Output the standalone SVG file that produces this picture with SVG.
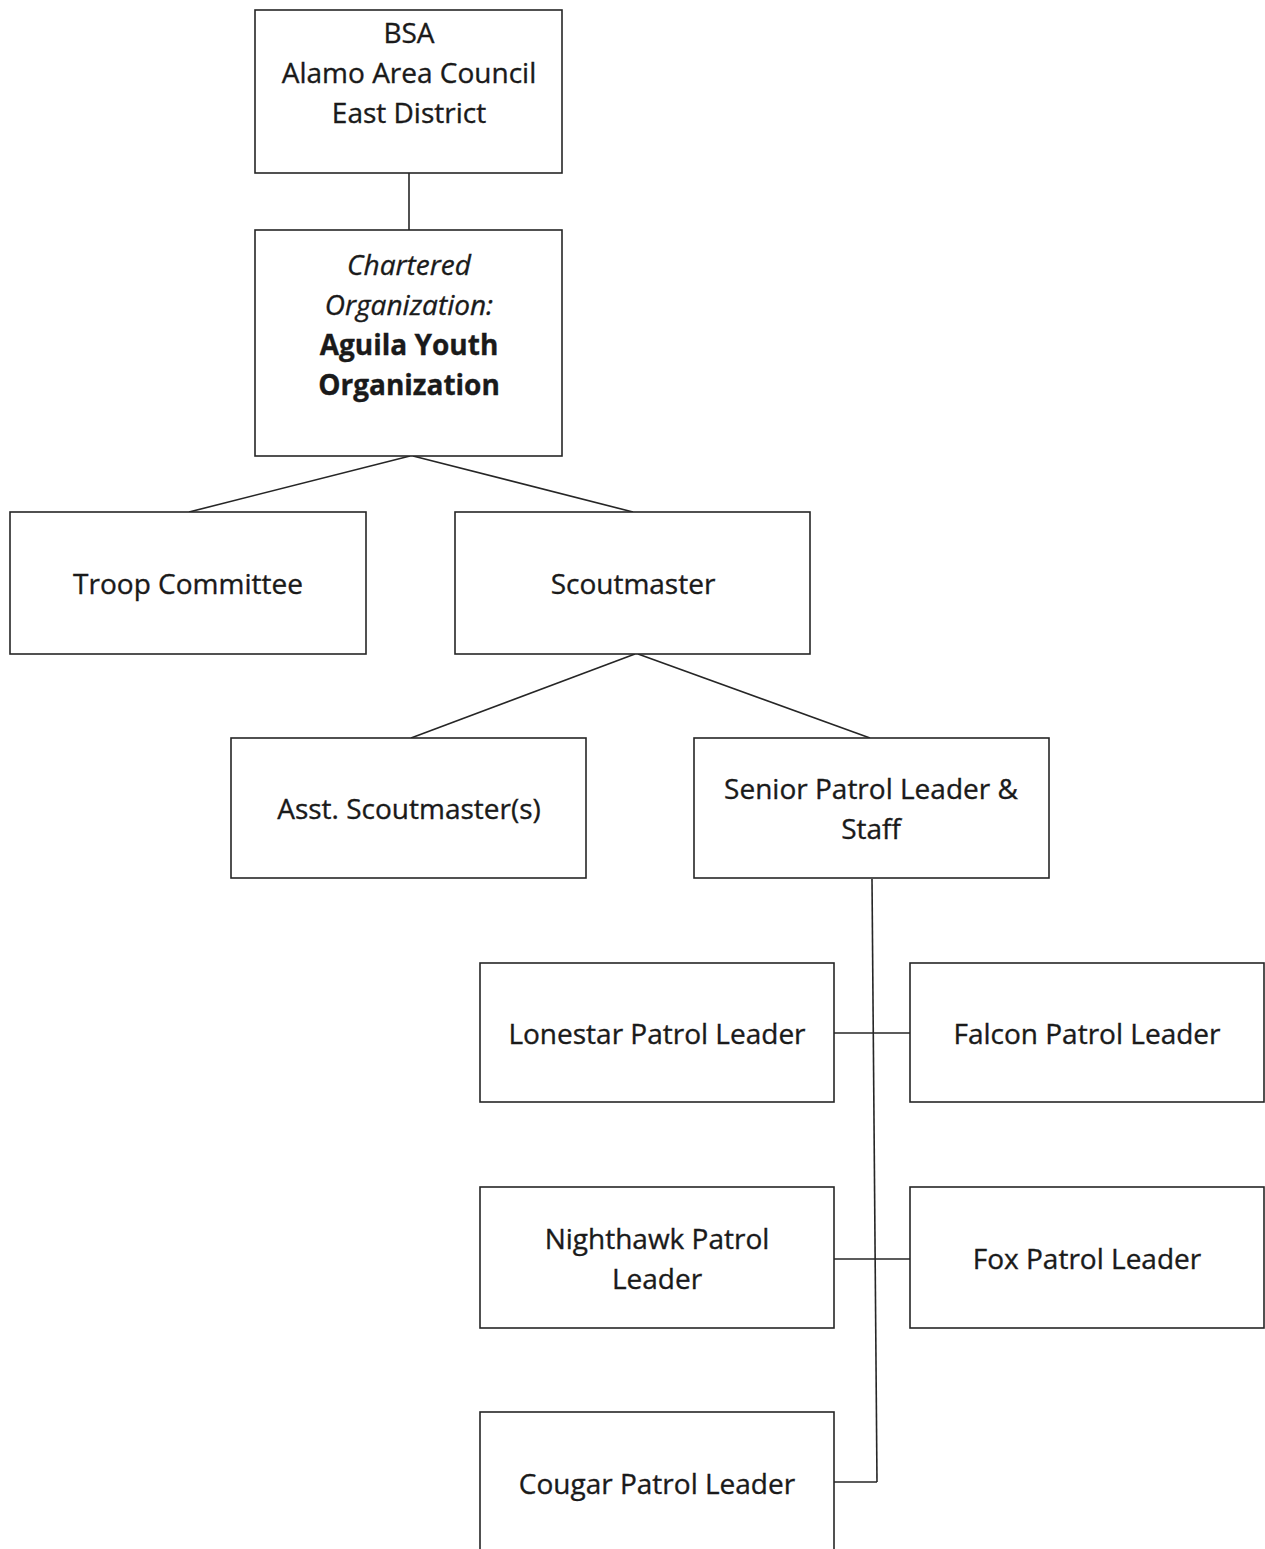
<svg xmlns="http://www.w3.org/2000/svg" width="1265" height="1549" viewBox="0 0 1265 1549">
<style>
.box{fill:#fff;stroke:#262626;stroke-width:1.6}
.t{font-family:"Open Sans","Liberation Sans",sans-serif;font-size:28px;fill:#1a1a1a;stroke:#1a1a1a;stroke-width:0.35;text-anchor:middle}
.i{font-style:italic}
.b{font-weight:bold}
.c{stroke:#262626;stroke-width:1.6;fill:none}
</style>
<rect width="1265" height="1549" fill="#fff"/>
<g id="connectors">
<line class="c" x1="409" y1="173" x2="409" y2="230"/>
<line class="c" x1="410" y1="456" x2="189" y2="512"/>
<line class="c" x1="413" y1="456" x2="633" y2="512"/>
<line class="c" x1="635" y1="654" x2="411" y2="738"/>
<line class="c" x1="638" y1="654" x2="870" y2="738"/>
<line class="c" x1="872" y1="879" x2="877" y2="1482"/>
<line class="c" x1="834" y1="1033" x2="910" y2="1033"/>
<line class="c" x1="834" y1="1259" x2="910" y2="1259"/>
<line class="c" x1="834" y1="1482" x2="877" y2="1482"/>
</g>
<g id="bsa"><rect class="box" x="255" y="10" width="307" height="163"/>
<text class="t" x="409" y="43">BSA</text><text class="t" x="409" y="83">Alamo Area Council</text><text class="t" x="409" y="123">East District</text></g>
<g id="chartered"><rect class="box" x="255" y="230" width="307" height="226"/>
<text class="t i" x="409" y="275">Chartered</text><text class="t i" x="409" y="315">Organization:</text><text class="t b" x="409" y="355">Aguila Youth</text><text class="t b" x="409" y="395">Organization</text></g>
<g id="troop-committee"><rect class="box" x="10" y="512" width="356" height="142"/><text class="t" x="188" y="594">Troop Committee</text></g>
<g id="scoutmaster"><rect class="box" x="455" y="512" width="355" height="142"/><text class="t" x="633" y="594">Scoutmaster</text></g>
<g id="asst-scoutmaster"><rect class="box" x="231" y="738" width="355" height="140"/><text class="t" x="409" y="819">Asst. Scoutmaster(s)</text></g>
<g id="senior-patrol-leader"><rect class="box" x="694" y="738" width="355" height="140"/><text class="t" x="871" y="799">Senior Patrol Leader &amp;</text><text class="t" x="871" y="839">Staff</text></g>
<g id="lonestar"><rect class="box" x="480" y="963" width="354" height="139"/><text class="t" x="657" y="1044">Lonestar Patrol Leader</text></g>
<g id="falcon"><rect class="box" x="910" y="963" width="354" height="139"/><text class="t" x="1087" y="1044">Falcon Patrol Leader</text></g>
<g id="nighthawk"><rect class="box" x="480" y="1187" width="354" height="141"/><text class="t" x="657" y="1249">Nighthawk Patrol</text><text class="t" x="657" y="1289">Leader</text></g>
<g id="fox"><rect class="box" x="910" y="1187" width="354" height="141"/><text class="t" x="1087" y="1269">Fox Patrol Leader</text></g>
<g id="cougar"><rect class="box" x="480" y="1412" width="354" height="150"/><text class="t" x="657" y="1494">Cougar Patrol Leader</text></g>
</svg>
